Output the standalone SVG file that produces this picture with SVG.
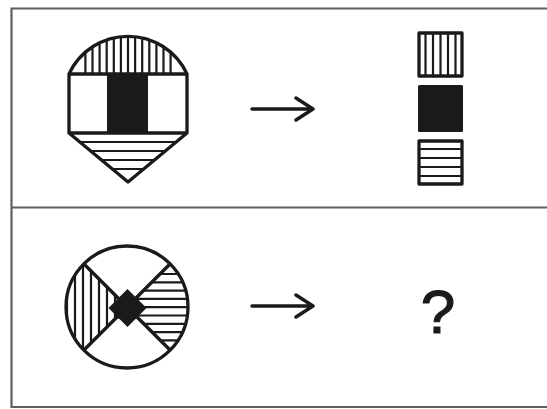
<svg xmlns="http://www.w3.org/2000/svg" width="547" height="409" viewBox="0 0 547 409">
<style>
.frame{fill:none;stroke:#5f5f5f;stroke-width:2.2}
.ol{fill:none;stroke:#1a1a1a;stroke-width:3.3;stroke-linejoin:round}
.h{stroke:#1a1a1a;stroke-width:2.2}
.blk{fill:#1a1a1a}
.arr{fill:none;stroke:#1a1a1a;stroke-width:3.4;stroke-linecap:round;stroke-linejoin:round}
.q{font-family:"Liberation Sans",Arial,sans-serif;font-size:62px;fill:#1a1a1a;stroke:#1a1a1a;stroke-width:1.2}
</style>
<defs>
<clipPath id="arcClip"><path d="M69,74 A65,65 0 0 1 187,74 Z"/></clipPath>
<clipPath id="triClip"><path d="M69,133 L128,182 L187,133 Z"/></clipPath>
<clipPath id="circ"><circle cx="127" cy="307" r="61"/></clipPath>
<clipPath id="leftQ"><path d="M127,307 L57,237 L57,377 Z"/></clipPath>
<clipPath id="rightQ"><path d="M127,307 L197,237 L197,377 Z"/></clipPath>
</defs>
<rect width="547" height="409" fill="#fff"/>
<g id="frame">
<path class="frame" d="M560,8.5 H11.5 V407 H560"/>
<line class="frame" x1="11.5" y1="207.5" x2="560" y2="207.5"/>
</g>
<g id="shape1">
<g clip-path="url(#arcClip)">
<g class="h">
<line x1="85.4" y1="30" x2="85.4" y2="75"/><line x1="92.5" y1="30" x2="92.5" y2="75"/><line x1="99.6" y1="30" x2="99.6" y2="75"/><line x1="106.7" y1="30" x2="106.7" y2="75"/><line x1="113.8" y1="30" x2="113.8" y2="75"/><line x1="120.9" y1="30" x2="120.9" y2="75"/><line x1="128" y1="30" x2="128" y2="75"/><line x1="135.1" y1="30" x2="135.1" y2="75"/><line x1="142.2" y1="30" x2="142.2" y2="75"/><line x1="149.3" y1="30" x2="149.3" y2="75"/><line x1="156.4" y1="30" x2="156.4" y2="75"/><line x1="163.5" y1="30" x2="163.5" y2="75"/><line x1="170.6" y1="30" x2="170.6" y2="75"/>
</g>
</g>
<rect class="blk" x="107" y="74" width="41" height="59"/>
<g clip-path="url(#triClip)">
<g class="h">
<line x1="60" y1="142" x2="200" y2="142"/><line x1="60" y1="151" x2="200" y2="151"/><line x1="60" y1="160" x2="200" y2="160"/><line x1="60" y1="169" x2="200" y2="169"/>
</g>
</g>
<path class="ol" d="M69,133 V74 A65,65 0 0 1 187,74 V133 L128,182 Z"/>
<line class="ol" x1="69" y1="74" x2="187" y2="74"/>
<line class="ol" x1="69" y1="133" x2="187" y2="133"/>
</g>
<g id="arrow1">
<path class="arr" d="M252,109 H313 M296,98 L313,109 L296,120"/>
</g>
<g id="result1">
<g class="h">
<line x1="425.5" y1="32" x2="425.5" y2="77"/><line x1="433" y1="32" x2="433" y2="77"/><line x1="440.5" y1="32" x2="440.5" y2="77"/><line x1="448" y1="32" x2="448" y2="77"/><line x1="455.5" y1="32" x2="455.5" y2="77"/>
</g>
<rect class="ol" x="419" y="33" width="43" height="43"/>
<rect class="blk" x="418" y="85" width="45" height="47" rx="1.5"/>
<g class="h">
<line x1="419" y1="149" x2="462" y2="149"/><line x1="419" y1="158" x2="462" y2="158"/><line x1="419" y1="167" x2="462" y2="167"/><line x1="419" y1="176" x2="462" y2="176"/>
</g>
<rect class="ol" x="419" y="141" width="43" height="43"/>
</g>
<g id="shape2">
<g clip-path="url(#circ)">
<g clip-path="url(#leftQ)">
<g class="h">
<line x1="67" y1="240" x2="67" y2="375"/><line x1="75" y1="240" x2="75" y2="375"/><line x1="83" y1="240" x2="83" y2="375"/><line x1="91" y1="240" x2="91" y2="375"/><line x1="99" y1="240" x2="99" y2="375"/><line x1="107" y1="240" x2="107" y2="375"/><line x1="115" y1="240" x2="115" y2="375"/>
</g>
</g>
<g clip-path="url(#rightQ)">
<g class="h">
<line x1="120" y1="274" x2="195" y2="274"/><line x1="120" y1="282.3" x2="195" y2="282.3"/><line x1="120" y1="290.6" x2="195" y2="290.6"/><line x1="120" y1="298.9" x2="195" y2="298.9"/><line x1="120" y1="307.2" x2="195" y2="307.2"/><line x1="120" y1="315.5" x2="195" y2="315.5"/><line x1="120" y1="323.8" x2="195" y2="323.8"/><line x1="120" y1="332.1" x2="195" y2="332.1"/><line x1="120" y1="340.4" x2="195" y2="340.4"/>
</g>
</g>
<g class="ol">
<line x1="84" y1="264" x2="170" y2="350"/>
<line x1="170" y1="264" x2="84" y2="350"/>
</g>
</g>
<path class="blk" d="M127.5,289 L146.5,308 L127.5,327 L108.5,308 Z"/>
<rect class="blk" x="116.5" y="297" width="22" height="22" rx="4"/>
<circle class="ol" cx="127" cy="307" r="61"/>
</g>
<g id="arrow2">
<path class="arr" d="M252,306 H313 M296,295 L313,306 L296,317"/>
</g>
<g id="question">
<text class="q" x="438" y="333" text-anchor="middle">?</text>
</g>
</svg>
